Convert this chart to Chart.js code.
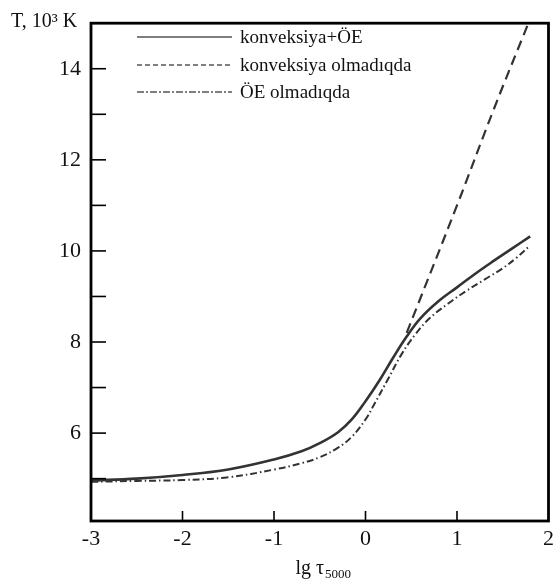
<!DOCTYPE html>
<html>
<head>
<meta charset="utf-8">
<script src="https://cdn.jsdelivr.net/npm/chart.js@4.4.1/dist/chart.umd.min.js"></script>
<style>
  html, body { margin: 0; padding: 0; background: #ffffff; }
  #wrap { width: 559px; height: 580px; position: relative; }
</style>
</head>
<body>
<div id="wrap"><canvas id="c" width="559" height="580"></canvas></div>
<script>
// ---- data ----
const seriesNames = ["konveksiya+ÖE", "konveksiya olmadıqda", "ÖE olmadıqda"];

// konveksiya+ÖE (solid)
const solidX = [-3.0, -2.5, -2.0, -1.5, -1.0, -0.7, -0.5, -0.3, -0.15, 0.0, 0.15, 0.3, 0.45, 0.6, 0.8, 1.0, 1.2, 1.4, 1.6, 1.8];
const solidY = [4.96, 5.0, 5.08, 5.2, 5.42, 5.6, 5.78, 6.02, 6.3, 6.7, 7.15, 7.65, 8.12, 8.52, 8.9, 9.2, 9.5, 9.78, 10.05, 10.32];

// konveksiya olmadıqda (dashed)
const dashX = [0.45, 1.0, 1.4, 1.78];
const dashY = [8.2, 11.0, 13.1, 15.0];

// ÖE olmadıqda (dash-dot)
const dotX = [-3.0, -2.5, -2.0, -1.5, -1.0, -0.7, -0.5, -0.3, -0.15, 0.0, 0.1, 0.25, 0.4, 0.55, 0.7, 0.9, 1.1, 1.3, 1.5, 1.65, 1.8];
const dotY = [4.93, 4.95, 4.97, 5.03, 5.2, 5.34, 5.47, 5.68, 5.92, 6.3, 6.65, 7.2, 7.75, 8.18, 8.52, 8.84, 9.12, 9.37, 9.62, 9.85, 10.12];

const xTicks = [-3, -2, -1, 0, 1, 2];
const yTicks = [5, 6, 7, 8, 9, 10, 11, 12, 13, 14];
const yLabelled = [6, 8, 10, 12, 14];

const yTitle = "T, 10³ K";
const xTitleMain = "lg τ";
const xTitleSub = "5000";

const pts = (xs, ys) => xs.map((x, i) => ({ x: x, y: ys[i] }));

const SERIF = "'Liberation Serif', 'DejaVu Serif', serif";
const INK = "#111111";

const lineStyles = [
  { color: "#333333", width: 2.6, dash: [] },
  { color: "#333333", width: 2.2, dash: [10, 6] },
  { color: "#333333", width: 2.0, dash: [7, 3, 1.5, 3] }
];
const legendDash = [[], [5, 3], [7, 2, 2, 2]];

const decor = {
  id: "decor",
  afterDraw(chart) {
    const ctx = chart.ctx;
    const a = chart.chartArea;
    const xs = chart.scales.x, ys = chart.scales.y;
    ctx.save();
    ctx.strokeStyle = "#000";
    ctx.setLineDash([]);
    // inward ticks on y
    ctx.lineWidth = 1.6;
    yTicks.forEach(v => {
      const py = ys.getPixelForValue(v);
      ctx.beginPath(); ctx.moveTo(a.left, py); ctx.lineTo(a.left + 15, py); ctx.stroke();
    });
    // inward ticks on x
    xTicks.forEach(v => {
      if (v === xs.min || v === xs.max) return;
      const px = xs.getPixelForValue(v);
      ctx.beginPath(); ctx.moveTo(px, a.bottom); ctx.lineTo(px, a.bottom - 10); ctx.stroke();
    });
    // frame
    ctx.lineWidth = 2.8;
    ctx.strokeRect(a.left, a.top, a.right - a.left, a.bottom - a.top);

    // legend
    const rows = [37, 65, 92];
    ctx.font = "19px " + SERIF;
    ctx.fillStyle = INK;
    ctx.textBaseline = "middle";
    ctx.textAlign = "left";
    seriesNames.forEach((name, i) => {
      ctx.lineWidth = 1.2;
      ctx.strokeStyle = "#000";
      ctx.setLineDash(legendDash[i]);
      ctx.beginPath(); ctx.moveTo(137, rows[i]); ctx.lineTo(232, rows[i]); ctx.stroke();
      ctx.setLineDash([]);
      ctx.fillText(name, 240, rows[i] + 1);
    });

    // y title
    ctx.font = "20px " + SERIF;
    ctx.textAlign = "left";
    ctx.textBaseline = "alphabetic";
    ctx.fillText(yTitle, 11, 27);

    // x title with subscript
    ctx.font = "20px " + SERIF;
    const wMain = ctx.measureText(xTitleMain).width;
    ctx.font = "13px " + SERIF;
    const wSub = ctx.measureText(xTitleSub).width;
    const cx = (a.left + a.right) / 2 + 3;
    const x0 = cx - (wMain + wSub) / 2;
    ctx.font = "20px " + SERIF;
    ctx.fillText(xTitleMain, x0, 574);
    ctx.font = "13px " + SERIF;
    ctx.fillText(xTitleSub, x0 + wMain + 1, 578);
    ctx.restore();
  }
};

new Chart(document.getElementById("c"), {
  type: "line",
  data: {
    datasets: [
      { label: seriesNames[0], data: pts(solidX, solidY) },
      { label: seriesNames[1], data: pts(dashX, dashY) },
      { label: seriesNames[2], data: pts(dotX, dotY) }
    ].map((d, i) => Object.assign(d, {
      borderColor: lineStyles[i].color,
      borderWidth: lineStyles[i].width,
      borderDash: lineStyles[i].dash,
      pointRadius: 0,
      fill: false,
      tension: 0.4
    }))
  },
  options: {
    responsive: false,
    animation: false,
    devicePixelRatio: 1,
    layout: { padding: { left: 0, right: 6, top: 15, bottom: 0 } },
    plugins: { legend: { display: false }, tooltip: { enabled: false } },
    scales: {
      x: {
        type: "linear",
        min: -3, max: 2,
        afterBuildTicks: s => { s.ticks = xTicks.map(v => ({ value: v })); },
        afterFit: s => { s.height = 59; },
        grid: { display: false, drawTicks: false },
        border: { display: false },
        ticks: {
          color: INK,
          font: { family: SERIF, size: 22 },
          padding: 5,
          maxRotation: 0,
          autoSkip: false,
          callback: v => String(v)
        }
      },
      y: {
        type: "linear",
        min: 4.07, max: 15.0,
        afterBuildTicks: s => { s.ticks = yTicks.map(v => ({ value: v })); },
        afterFit: s => { s.width = 91; },
        grid: { display: false, drawTicks: false },
        border: { display: false },
        ticks: {
          color: INK,
          font: { family: SERIF, size: 22 },
          padding: 10,
          autoSkip: false,
          callback: v => yLabelled.includes(v) ? String(v) : ""
        }
      }
    }
  },
  plugins: [decor]
});
</script>
</body>
</html>
